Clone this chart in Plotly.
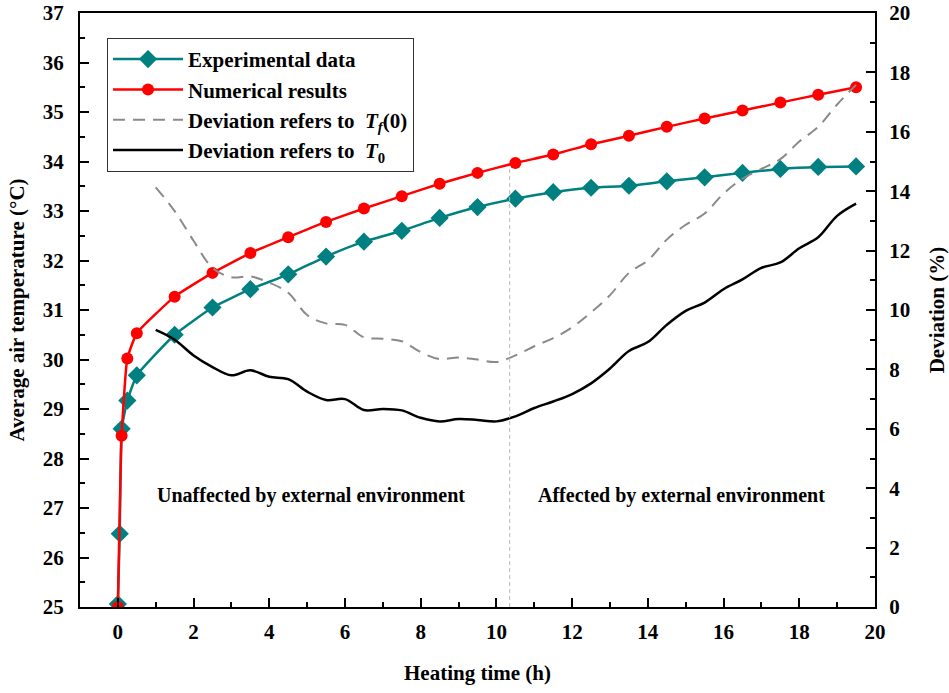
import plotly.graph_objects as go

# Heating time (h) and average air temperature (°C)
t_exp = [0, 0.05, 0.1, 0.25, 0.5, 1.5, 2.5, 3.5, 4.5, 5.5, 6.5, 7.5, 8.5, 9.5,
         10.5, 11.5, 12.5, 13.5, 14.5, 15.5, 16.5, 17.5, 18.5, 19.5]
T_exp = [25.06, 26.48, 28.6, 29.17, 29.68, 30.5, 31.05, 31.42, 31.72, 32.08, 32.38,
         32.6, 32.86, 33.08, 33.25, 33.38, 33.47, 33.51, 33.6, 33.68, 33.77, 33.85,
         33.89, 33.9]

t_num = [0, 0.1, 0.25, 0.5, 1.5, 2.5, 3.5, 4.5, 5.5, 6.5, 7.5, 8.5, 9.5, 10.5,
         11.5, 12.5, 13.5, 14.5, 15.5, 16.5, 17.5, 18.5, 19.5]
T_num = [25.0, 28.46, 30.02, 30.53, 31.27, 31.75, 32.15, 32.47, 32.78, 33.05, 33.3,
         33.55, 33.77, 33.97, 34.14, 34.35, 34.52, 34.7, 34.87, 35.03, 35.19, 35.35,
         35.5]

# Deviation (%) between numerical and experimental results
t_dev = [1.0, 1.5, 2.0, 2.5, 3.0, 3.5, 4.0, 4.5, 5.0, 5.5, 6.0, 6.5, 7.0, 7.5,
         8.0, 8.5, 9.0, 9.5, 10.0, 10.5, 11.0, 11.5, 12.0, 12.5, 13.0, 13.5, 14.0,
         14.5, 15.0, 15.5, 16.0, 16.5, 17.0, 17.5, 18.0, 18.5, 19.0, 19.5]
dev_tf0 = [14.13, 13.33, 12.33, 11.42, 11.1, 11.13, 10.92, 10.58, 9.83, 9.55, 9.5,
           9.08, 9.03, 8.95, 8.58, 8.35, 8.4, 8.33, 8.25, 8.47, 8.78, 9.05, 9.42,
           9.92, 10.5, 11.25, 11.67, 12.37, 12.87, 13.25, 13.92, 14.42, 14.75,
           15.08, 15.67, 16.17, 16.92, 17.58]
dev_t0 = [9.33, 9.0, 8.47, 8.08, 7.8, 7.97, 7.75, 7.67, 7.25, 6.97, 7.0, 6.63, 6.67,
          6.62, 6.37, 6.25, 6.33, 6.3, 6.25, 6.42, 6.7, 6.92, 7.17, 7.53, 8.03, 8.62,
          8.92, 9.5, 9.97, 10.25, 10.7, 11.03, 11.42, 11.6, 12.08, 12.45, 13.17,
          13.58]

boundary_t = 10.35
region_labels = ["Unaffected by external environment", "Affected by external environment"]

FONT = "Liberation Serif"
TEAL = "#008080"
RED = "#ff0000"

fig = go.Figure()
fig.add_trace(go.Scatter(
    x=t_exp, y=T_exp, mode="lines+markers", name="Experimental data",
    line=dict(color=TEAL, width=2.5, shape="spline", smoothing=0.4),
    marker=dict(symbol="diamond", size=14, color=TEAL)))
fig.add_trace(go.Scatter(
    x=t_num, y=T_num, mode="lines+markers", name="Numerical results",
    line=dict(color=RED, width=2.5, shape="spline", smoothing=0.4),
    marker=dict(symbol="circle", size=12, color=RED)))
fig.add_trace(go.Scatter(
    x=t_dev, y=dev_tf0, mode="lines", yaxis="y2",
    name="Deviation refers to  <i>T</i><sub><i>f</i></sub>(0)",
    line=dict(color="#8a8a8a", width=2, dash="12px,8px", shape="spline")))
fig.add_trace(go.Scatter(
    x=t_dev, y=dev_t0, mode="lines", yaxis="y2",
    name="Deviation refers to  <i>T</i><sub>0</sub>",
    line=dict(color="black", width=2.5, shape="spline")))

# boundary between the two heating stages
fig.add_shape(type="line", xref="x", yref="y", x0=boundary_t, x1=boundary_t,
              y0=25, y1=33.9, line=dict(color="#bbbbbb", width=1, dash="4px,3px"))

annfont = dict(family=FONT, size=20, color="black", weight="bold")
fig.add_annotation(x=5.1, y=27.25, xref="x", yref="y", text=region_labels[0],
                   showarrow=False, font=annfont)
fig.add_annotation(x=14.88, y=27.25, xref="x", yref="y", text=region_labels[1],
                   showarrow=False, font=annfont)

tickfont = dict(family=FONT, size=21, color="black", weight="bold")
titlefont = dict(family=FONT, size=21, color="black", weight="bold")

fig.update_layout(
    width=949, height=693,
    margin=dict(l=80, r=74, t=13, b=86),
    paper_bgcolor="white", plot_bgcolor="white",
    showlegend=True,
    legend=dict(x=0.034, y=0.958, xanchor="left", yanchor="top",
                bgcolor="white", bordercolor="#333333", borderwidth=1,
                font=dict(family=FONT, size=21, color="black", weight="bold"),
                itemwidth=70, tracegroupgap=0),
    xaxis=dict(range=[-1, 20], tickvals=[0, 2, 4, 6, 8, 10, 12, 14, 16, 18, 20],
               automargin=False,
               ticks="inside", ticklen=9, tickwidth=1.5, tickcolor="black",
               minor=dict(ticks="inside", ticklen=5, dtick=1, tick0=0, tickcolor="black", tickwidth=1.5),
               showline=True, linecolor="black", linewidth=2, mirror=True,
               showgrid=False, zeroline=False, tickfont=tickfont,
               ticklabelstandoff=5,
               title=dict(text="Heating time (h)", font=titlefont, standoff=22)),
    yaxis=dict(range=[25, 37], dtick=1, ticks="inside", ticklen=9, tickwidth=1.5,
               automargin=False, tickcolor="black",
               minor=dict(ticks="inside", ticklen=5, dtick=0.5, tickcolor="black", tickwidth=1.5),
               showline=True, linecolor="black", linewidth=2, mirror=True,
               showgrid=False, zeroline=False, tickfont=tickfont,
               ticklabelstandoff=10,
               title=dict(text="Average air temperature (°C)", font=titlefont, standoff=12)),
    yaxis2=dict(range=[0, 20], dtick=2, overlaying="y", side="right",
                automargin=False,
                ticks="inside", ticklen=9, tickwidth=1.5, tickcolor="black",
                minor=dict(ticks="inside", ticklen=5, dtick=1, tickcolor="black", tickwidth=1.5),
                showline=True, linecolor="black", linewidth=2,
                showgrid=False, zeroline=False, tickfont=tickfont,
                ticklabelstandoff=8,
                title=dict(text="Deviation (%)", font=titlefont, standoff=20)),
)

fig.write_html("out.html")
